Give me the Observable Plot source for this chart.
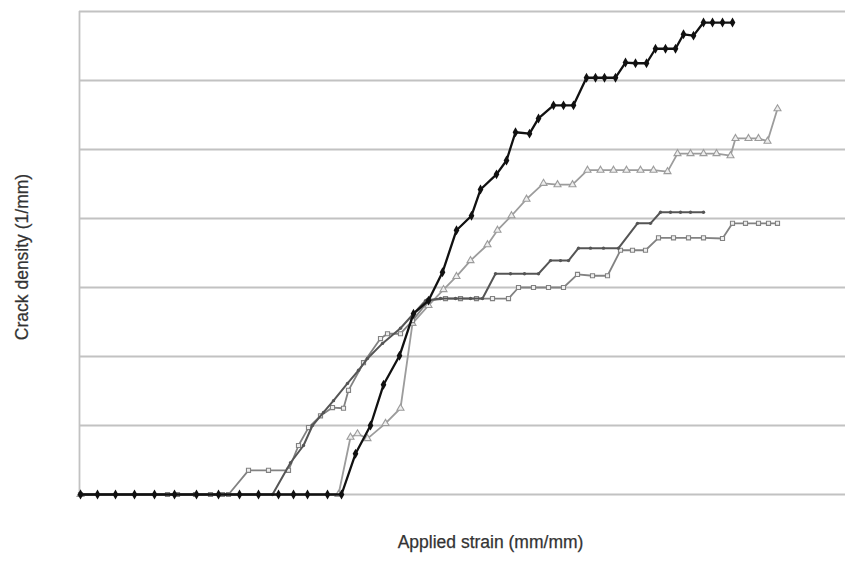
<!DOCTYPE html>
<html>
<head>
<meta charset="utf-8">
<script src="https://cdn.jsdelivr.net/npm/d3@7"></script>
<script src="https://cdn.jsdelivr.net/npm/@observablehq/plot@0.6"></script>
<style>
  html, body { margin: 0; padding: 0; background: #fff; }
  #chart svg { display: block; }
</style>
</head>
<body>
<div id="chart"></div>
<script>
// Applied strain (arbitrary units, no tick labels shown) and crack density (1/mm)
const gridTicks = [0.1, 0.2, 0.3, 0.4, 0.5, 0.6, 0.7];

const blackX = [0.01,0.18,0.36,0.55,0.75,0.95,1.17,1.39,1.60,1.79,1.99,2.14,2.28,2.48,2.62,
  2.76,2.91,3.04,3.20,3.34,3.49,3.63,3.77,3.92,4.01,4.17,4.27,4.36,4.50,4.59,4.74,4.84,4.94,
  5.07,5.16,5.25,5.36,5.46,5.56,5.67,5.76,5.86,5.96,6.04,6.14,6.24,6.33,6.43,6.53];
const blackY = [0,0,0,0,0,0,0,0,0,0,0,0,0,0,0,
  0.059,0.100,0.159,0.201,0.262,0.281,0.322,0.383,0.404,0.442,0.464,0.484,0.525,0.523,0.545,0.564,0.564,0.564,
  0.604,0.604,0.604,0.604,0.626,0.625,0.625,0.646,0.646,0.646,0.667,0.665,0.684,0.684,0.684,0.684];

const triX = [0.01,2.59,2.71,2.78,2.88,3.06,3.21,3.33,3.49,3.64,3.77,3.91,4.08,4.18,4.32,4.47,4.64,4.78,4.93,
  5.08,5.21,5.34,5.47,5.61,5.74,5.88,5.98,6.11,6.24,6.37,6.51,6.56,6.69,6.79,6.88,6.98];
const triY = [0,0,0.083,0.088,0.081,0.103,0.125,0.248,0.274,0.297,0.316,0.339,0.362,0.383,0.404,0.428,0.451,0.449,0.449,
  0.470,0.470,0.470,0.470,0.470,0.470,0.468,0.494,0.494,0.494,0.494,0.491,0.516,0.516,0.516,0.512,0.559];

const sqX = [0.01,0.88,0.98,1.16,1.31,1.43,1.49,1.69,1.89,2.09,2.19,2.29,2.41,2.53,2.64,2.69,2.84,3.01,3.08,3.21,3.33,
  3.49,3.66,3.81,3.97,4.13,4.29,4.39,4.54,4.69,4.84,4.98,5.13,5.28,5.41,5.53,5.66,5.79,5.94,6.09,6.24,6.43,
  6.53,6.66,6.79,6.89,6.98];
const sqY = [0,0,0,0,0,0,0,0.035,0.035,0.035,0.071,0.097,0.114,0.126,0.125,0.151,0.191,0.226,0.233,0.233,0.252,
  0.281,0.284,0.284,0.284,0.284,0.284,0.300,0.300,0.300,0.300,0.319,0.317,0.317,0.354,0.354,0.354,0.372,0.372,0.372,0.372,0.371,
  0.393,0.393,0.393,0.393,0.393];

const darkX = [0.01,1.93,2.11,2.24,2.33,2.44,2.54,2.68,2.79,2.88,3.03,3.21,3.34,3.46,3.61,3.76,3.91,4.03,
  4.16,4.31,4.45,4.59,4.71,4.81,4.89,4.99,5.11,5.24,5.39,5.58,5.71,5.81,5.91,6.01,6.11,6.24];
const darkY = [0,0,0.046,0.071,0.100,0.119,0.136,0.161,0.180,0.197,0.219,0.241,0.262,0.281,0.284,0.284,0.284,0.284,
  0.320,0.320,0.320,0.320,0.339,0.339,0.339,0.357,0.357,0.357,0.357,0.393,0.393,0.409,0.409,0.409,0.409,0.409];

const xLabel = "Applied strain (mm/mm)";
const yLabel = "Crack density (1/mm)";

const toRows = (xs, ys) => xs.map((x, i) => ({x, y: ys[i]}));
const black = toRows(blackX, blackY);
const tri = toRows(triX, triY);
const sq = toRows(sqX, sqY);
const dark = toRows(darkX, darkY);

const chart = Plot.plot({
  width: 845,
  height: 563,
  marginLeft: 79,
  marginRight: 0,
  marginTop: 11,
  marginBottom: 69,
  style: {fontFamily: "Arial, 'Liberation Sans', sans-serif", background: "#fff"},
  x: {domain: [0, 7.66], axis: null},
  y: {domain: [0, 0.7], axis: null},
  marks: [
    Plot.ruleY(gridTicks, {stroke: "#c2c2c2", strokeWidth: 1.8}),
    Plot.ruleY([0], {stroke: "#c2c2c2", strokeWidth: 1.8}),
    Plot.ruleX([0], {stroke: "#c2c2c2", strokeWidth: 1.8}),
    Plot.line(tri, {x: "x", y: "y", stroke: "#9c9c9c", strokeWidth: 1.8}),
    Plot.dot(tri, {x: "x", y: "y", symbol: "triangle", r: 2.6, stroke: "#9c9c9c", strokeWidth: 1.1, fill: "#eee"}),
    Plot.line(sq, {x: "x", y: "y", stroke: "#828282", strokeWidth: 1.8}),
    Plot.dot(sq, {x: "x", y: "y", symbol: "square", r: 2.3, stroke: "#828282", strokeWidth: 1.1, fill: "#eee"}),
    Plot.line(dark, {x: "x", y: "y", stroke: "#555", strokeWidth: 2}),
    Plot.dot(dark, {x: "x", y: "y", r: 1.7, fill: "#555"}),
    Plot.line(black, {x: "x", y: "y", stroke: "#111", strokeWidth: 2.3}),
    Plot.dot(black, {x: "x", y: "y", symbol: "diamond", r: 3, fill: "#111"}),
    Plot.text([xLabel], {frameAnchor: "bottom", textAnchor: "middle", dx: 28, dy: 53, fontSize: 17.5, fill: "#333", stroke: "#333", strokeWidth: 0.25}),
    Plot.text([yLabel], {frameAnchor: "left", textAnchor: "middle", dx: -57, dy: 4, rotate: -90, fontSize: 17.5, fill: "#333", stroke: "#333", strokeWidth: 0.25})
  ]
});
document.getElementById("chart").append(chart);
</script>
</body>
</html>
